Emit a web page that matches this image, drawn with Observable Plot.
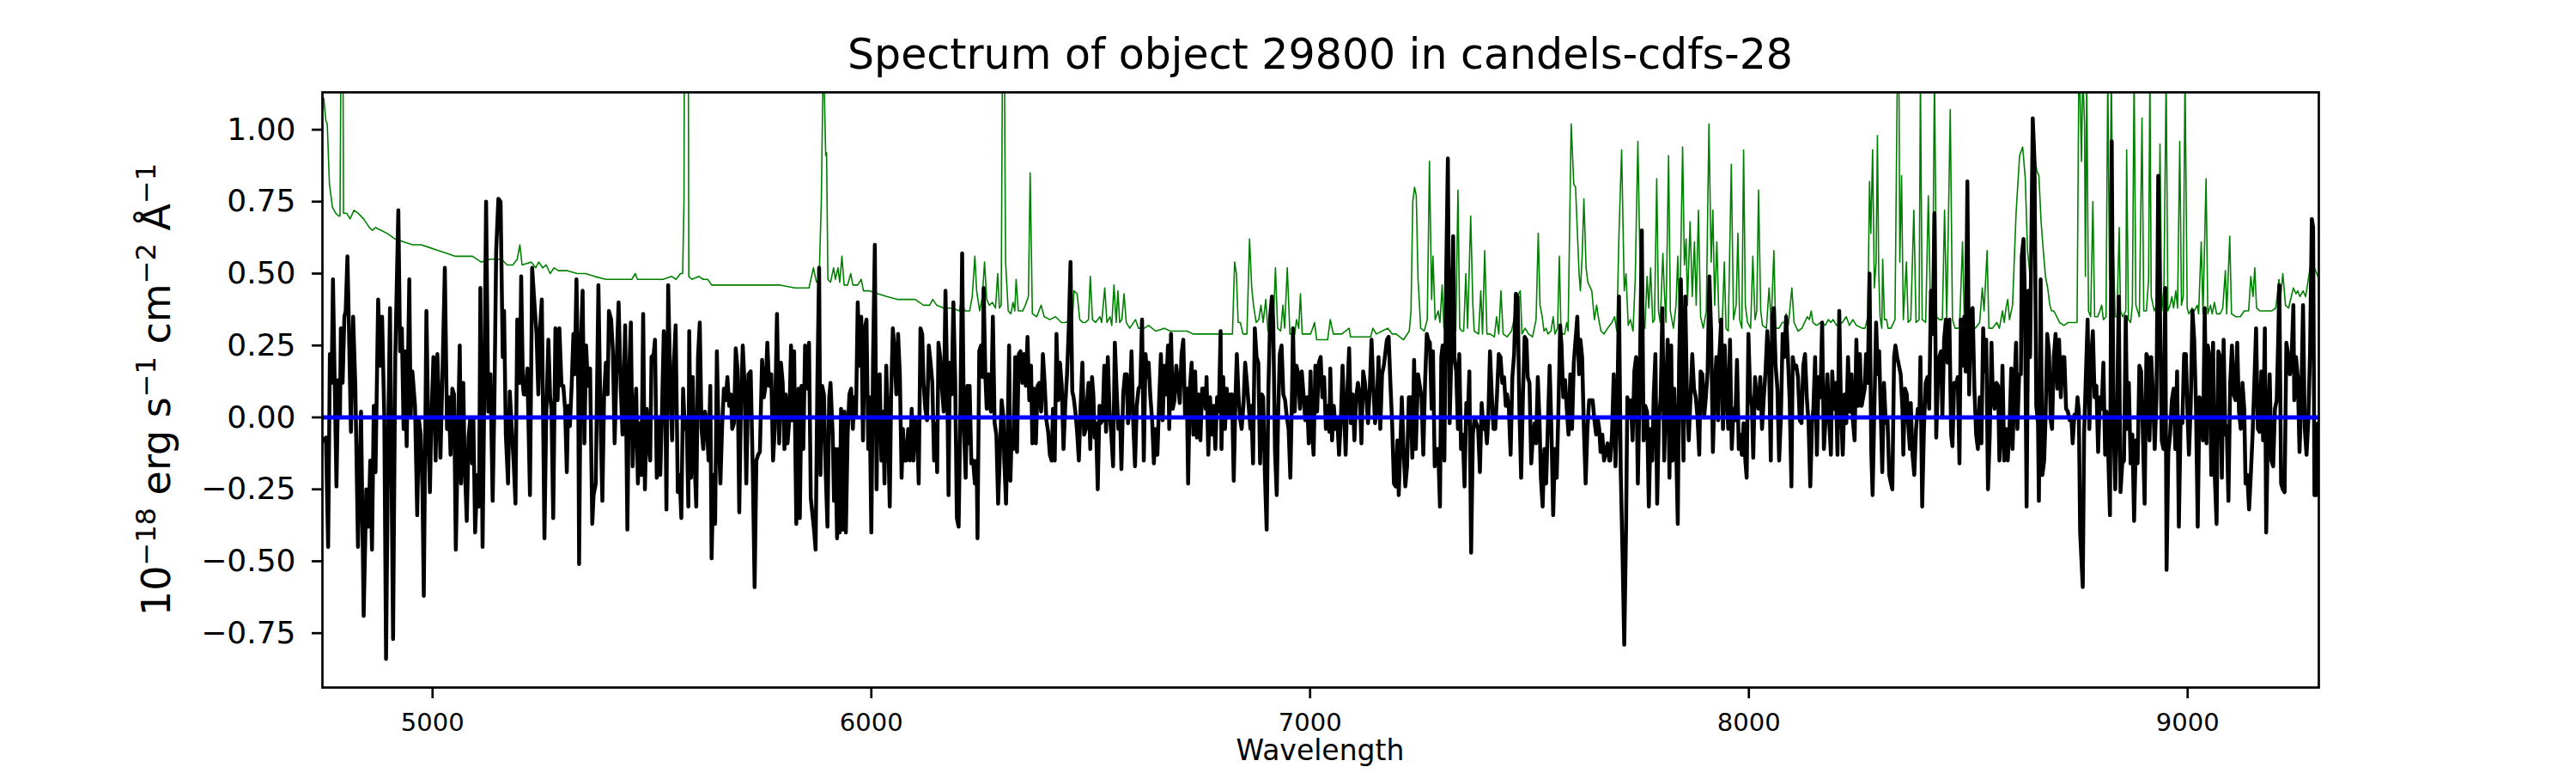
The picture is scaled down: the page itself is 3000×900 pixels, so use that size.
<!DOCTYPE html>
<html>
<head>
<meta charset="utf-8">
<script src="https://cdn.jsdelivr.net/npm/d3@7"></script>
<script src="https://cdn.jsdelivr.net/npm/@observablehq/plot@0.6"></script>
<style>
html, body { margin: 0; padding: 0; background: #ffffff; }
#chart { width: 3000px; height: 900px; }
</style>
</head>
<body>
<div id="chart"></div>
<script>
// ---------- text ----------
const titleText = "Spectrum of object 29800 in candels-cdfs-28";
const xLabelText = "Wavelength";
// y label pieces: [text, isSuperscript]
const yLabelParts = [["10", false], ["\u221218", true], [" erg s", false], ["\u22121", true], [" cm", false], ["\u22122", true], [" \u00C5", false], ["\u22121", true]];

// ---------- ticks / domains ----------
const xTicks = [5000, 6000, 7000, 8000, 9000];
const yTicks = [-0.75, -0.5, -0.25, 0, 0.25, 0.5, 0.75, 1.0];
const xDomain = [4749, 9299];
const yDomain = [-0.939, 1.13];
const zeroLevel = [0];

// ---------- object spectrum: [wavelength, flux] ----------
const spectrum = [
[4752,-0.08],[4757,-0.07],[4762,-0.45],[4766,0.22],[4770,0.12],[4773,0.48],[4777,0.12],[4781,-0.24],[4785,0.13],[4789,0.00],
[4791,0.31],[4795,0.12],[4799,0.35],[4802,0.37],[4806,0.56],[4809,0.34],[4814,-0.05],[4819,0.35],[4824,0.11],[4830,-0.45],
[4837,0.02],[4843,-0.69],[4849,-0.25],[4854,-0.38],[4858,-0.15],[4862,-0.46],[4866,0.04],[4870,-0.19],[4876,0.41],[4881,0.18],
[4885,0.35],[4890,0.00],[4894,-0.84],[4899,-0.04],[4903,0.38],[4910,-0.77],[4915,0.21],[4922,0.72],[4926,0.23],[4930,0.31],
[4934,-0.04],[4937,0.23],[4941,-0.10],[4947,0.48],[4950,0.00],[4954,0.16],[4960,0.04],[4965,-0.34],[4969,-0.01],[4973,-0.06],
[4977,-0.25],[4980,-0.62],[4986,0.37],[4990,-0.02],[4994,-0.26],[4997,-0.02],[5002,0.21],[5007,-0.15],[5011,0.22],[5014,0.07],
[5018,-0.14],[5023,0.18],[5028,0.52],[5033,-0.04],[5037,0.07],[5041,-0.13],[5045,0.10],[5049,0.08],[5053,-0.46],[5058,-0.05],
[5062,0.25],[5065,-0.23],[5070,0.12],[5073,-0.15],[5078,-0.36],[5082,-0.07],[5086,0.00],[5090,-0.16],[5093,0.00],[5097,-0.40],
[5102,-0.20],[5106,-0.31],[5109,0.45],[5114,-0.45],[5118,0.10],[5122,0.75],[5127,0.02],[5132,0.15],[5137,-0.29],[5141,0.06],
[5145,0.58],[5150,0.76],[5155,0.75],[5160,0.21],[5163,0.37],[5167,-0.06],[5172,-0.23],[5176,0.09],[5182,-0.08],[5185,-0.16],
[5189,-0.30],[5193,0.34],[5199,0.12],[5202,0.49],[5206,0.11],
[5208,0.08],[5212,0.08],[5216,0.17],[5222,-0.27],[5227,0.52],[5232,0.40],[5237,0.29],[5241,0.08],[5245,0.31],[5249,0.41],
[5255,-0.42],[5259,0.00],[5264,0.27],[5268,0.07],[5271,0.03],[5275,-0.35],[5280,0.31],[5285,0.06],[5289,0.31],[5294,0.11],
[5298,0.11],[5302,0.03],[5306,-0.19],[5309,0.04],[5313,-0.03],[5317,0.11],[5321,0.29],[5324,0.15],[5328,0.48],[5332,0.10],
[5334,-0.51],[5338,0.25],[5342,0.44],[5346,-0.09],[5350,0.25],[5354,0.11],[5359,0.17],[5364,-0.37],[5367,-0.27],[5372,-0.23],
[5378,0.46],[5383,-0.02],[5387,-0.29],[5391,0.08],[5395,0.19],[5399,0.08],[5402,0.37],[5407,0.34],[5411,0.23],[5415,-0.09],
[5420,0.21],[5424,0.40],[5429,0.10],[5433,-0.06],[5439,0.32],[5444,-0.39],[5448,0.15],[5452,0.33],[5456,-0.17],[5460,0.00],
[5464,0.10],[5468,-0.23],[5472,-0.02],[5476,-0.20],[5480,0.36],[5484,-0.25],[5488,0.03],[5492,-0.08],[5496,-0.15],[5499,0.21],
[5504,0.22],[5507,0.27],[5511,-0.21],[5515,0.00],[5519,-0.20],[5523,0.03],[5527,0.30],[5530,0.13],[5533,-0.32],[5537,0.46],
[5542,0.10],[5546,-0.08],[5550,0.19],[5554,0.32],[5559,-0.26],[5563,-0.20],[5567,-0.35],[5571,0.10],[5575,-0.04],[5579,-0.01],
[5583,-0.31],[5585,0.30],[5589,-0.21],[5593,0.14],[5597,-0.15],[5601,-0.31],[5605,0.21],[5609,0.33],[5613,-0.04],[5617,-0.11],
[5621,0.02],[5625,-0.02],[5629,-0.15],[5633,0.11],[5636,-0.49],[5640,-0.20],[5644,-0.37],[5648,0.23],[5652,-0.06],[5656,-0.23],
[5660,-0.03],[5664,0.10],[5668,0.06],[5672,0.14],[5676,0.04],[5680,0.08],[5683,-0.04],[5687,-0.02],[5691,0.24],[5695,0.17],
[5699,-0.33],[5703,0.06],[5707,0.25],[5711,0.12],[5715,-0.23],
[5720,0.15],[5725,0.16],[5730,-0.20],[5734,-0.59],[5738,-0.15],[5742,-0.13],[5746,-0.12],[5751,0.20],[5755,0.07],[5759,0.11],
[5763,0.26],[5767,0.11],[5772,0.15],[5776,-0.15],[5780,-0.04],[5785,0.36],[5790,-0.09],[5794,0.19],[5798,0.12],[5802,-0.11],
[5805,0.08],[5809,-0.09],[5813,-0.01],[5817,0.25],[5820,-0.01],[5824,0.23],[5829,-0.37],[5834,0.10],[5837,-0.35],[5841,0.11],
[5845,-0.11],[5849,0.25],[5854,0.10],[5858,0.26],[5862,-0.28],[5866,-0.34],[5870,-0.40],[5873,-0.46],[5877,0.12],[5881,0.52],
[5884,-0.20],[5888,0.11],[5892,0.08],[5896,-0.19],[5900,-0.38],[5904,0.07],[5907,0.12],[5912,-0.06],[5915,-0.29],[5918,-0.11],
[5922,-0.42],[5925,-0.11],[5928,-0.40],[5931,0.03],[5935,-0.39],[5939,0.02],[5942,-0.40],[5946,-0.06],[5950,0.08],[5954,0.10],
[5958,-0.04],[5961,0.07],[5965,0.00],[5969,0.40],[5973,0.18],[5977,0.35],[5981,-0.08],[5985,0.31],[5989,0.34],[5993,-0.11],
[5996,0.07],[6000,-0.40],[6004,0.21],[6008,0.60],[6012,-0.25],[6015,0.14],[6019,0.15],[6023,-0.15],[6027,0.02],[6030,-0.23],
[6034,0.18],[6038,-0.04],[6042,-0.31],[6045,0.07],[6049,0.31],[6053,0.23],[6057,0.08],[6061,0.29],[6065,0.15],[6069,-0.21],
[6072,-0.04],[6076,-0.15],[6080,-0.15],[6084,-0.04],[6088,-0.15],[6092,0.03],[6096,-0.15],[6100,-0.01],[6104,-0.02],[6108,-0.23],
[6112,0.31],[6116,0.29],[6119,0.12],[6123,0.03],[6127,-0.01],[6131,0.25],[6135,0.19],[6139,0.12],[6143,-0.15],[6147,-0.02],
[6150,-0.19],[6153,0.26],[6157,0.21],[6161,0.10],[6165,0.02],[6169,0.44],[6173,0.11],[6176,-0.27],[6179,0.19],[6183,0.08],
[6187,0.40],[6191,0.14],[6195,-0.35],[6199,-0.38],[6203,0.03],[6207,0.57],[6211,-0.04],[6215,-0.21],[6219,0.11],
[6221,-0.09],[6224,0.11],[6228,-0.16],[6232,-0.15],[6236,-0.23],[6240,-0.15],[6242,-0.42],[6246,0.23],[6250,0.25],[6254,0.14],
[6256,0.45],[6260,0.14],[6263,0.03],[6267,0.15],[6271,0.03],[6273,0.02],[6277,0.35],[6281,-0.02],[6285,-0.06],[6289,-0.30],
[6293,-0.13],[6297,0.06],[6301,0.00],[6303,-0.15],[6307,-0.30],[6311,-0.02],[6314,0.25],[6317,-0.22],[6320,-0.05],[6324,-0.11],
[6328,0.21],[6332,-0.12],[6336,0.22],[6340,0.23],[6344,0.12],[6348,0.22],[6352,0.11],[6356,0.28],[6360,0.06],[6364,0.18],
[6367,-0.09],[6371,0.10],[6375,-0.09],[6379,0.11],[6383,0.12],[6387,0.02],[6391,0.22],[6395,0.12],[6399,-0.01],[6403,-0.05],
[6407,-0.13],[6411,-0.15],[6414,0.03],[6418,-0.15],[6422,0.29],[6426,0.06],[6430,0.19],[6434,0.11],[6438,-0.11],[6442,0.04],
[6446,0.15],[6450,0.31],[6454,0.54],[6458,0.09],[6461,0.07],[6465,0.02],[6469,-0.05],[6473,-0.15],[6477,0.04],[6481,0.19],
[6485,-0.06],[6489,-0.04],[6491,0.04],[6495,0.12],[6499,-0.11],[6503,0.14],[6506,0.08],[6509,-0.07],[6512,-0.02],[6516,-0.25],
[6520,0.04],[6523,-0.02],[6527,-0.01],[6531,0.18],[6535,-0.05],[6539,0.21],[6543,0.02],[6547,-0.06],[6551,-0.17],[6555,0.26],
[6559,0.10],[6563,-0.04],[6567,0.00],[6570,-0.18],[6574,0.08],[6578,0.15],[6582,0.15],[6585,-0.02],[6589,0.04],[6593,0.23],
[6597,-0.02],[6601,-0.17],[6605,0.04],[6609,0.10],[6613,0.11],[6617,0.34],[6621,-0.15],[6625,0.22],[6629,0.14],[6632,0.19],
[6636,0.07],[6640,-0.01],[6644,-0.16],[6648,-0.04],[6652,-0.13],[6656,0.06],[6660,0.22],[6664,-0.01],[6668,0.18],[6672,0.08],
[6676,0.25],[6679,-0.04],[6683,0.29],[6687,0.03],[6691,0.06],[6695,0.18],[6699,0.12],[6703,0.05],[6707,0.22],[6711,0.27],
[6715,0.01],[6719,0.10],[6722,-0.23],[6726,0.10],[6730,0.19],[6734,-0.06],
[6738,0.16],[6742,-0.07],[6746,0.08],[6750,-0.08],[6754,0.10],[6758,0.10],[6762,0.03],[6764,0.14],[6768,-0.13],[6772,0.07],
[6776,-0.06],[6780,0.04],[6784,-0.11],[6788,0.07],[6792,0.02],[6796,0.30],[6798,-0.11],[6802,0.14],[6806,-0.04],[6810,0.10],
[6814,0.00],[6818,0.08],[6822,0.08],[6826,-0.22],[6830,0.07],[6833,0.22],[6837,0.07],[6841,-0.01],[6844,-0.04],[6848,0.04],
[6852,0.19],[6856,0.12],[6860,0.04],[6864,-0.04],[6866,0.04],[6870,-0.16],[6874,0.31],[6878,0.21],[6882,0.19],[6886,-0.16],
[6890,0.08],[6893,0.07],[6897,-0.20],[6901,-0.39],[6905,0.10],[6909,0.35],[6913,0.42],[6916,0.33],[6920,-0.12],[6924,-0.27],
[6927,0.00],[6931,0.22],[6935,0.25],[6939,0.08],[6943,0.06],[6947,0.00],[6951,-0.04],[6955,-0.21],[6959,0.10],[6961,0.31],
[6965,0.02],[6969,0.18],[6973,0.15],[6977,0.03],[6981,0.16],[6985,0.08],[6989,-0.01],[6993,0.07],[6997,-0.09],[7001,0.16],
[7004,-0.04],[7008,-0.13],[7012,0.18],[7016,0.02],[7020,0.19],[7024,0.21],[7028,0.07],[7032,0.14],[7036,-0.04],[7040,0.04],
[7044,-0.05],[7046,0.17],[7050,-0.08],[7054,0.04],[7058,-0.04],[7062,-0.01],[7066,-0.13],[7070,-0.01],[7074,0.18],[7078,0.00],
[7081,-0.13],[7085,0.09],[7089,0.24],[7093,-0.02],[7097,0.08],[7101,-0.08],[7105,0.07],[7109,0.12],[7113,0.08],[7117,-0.09],
[7121,0.16],[7125,0.12],[7128,0.07],[7132,-0.02],[7136,0.10],[7140,0.27],[7144,0.11],[7148,-0.02],[7152,0.04],[7156,0.21],
[7160,-0.04],[7164,0.15],[7168,0.18],[7172,0.23],[7175,0.27],[7179,0.28],[7183,0.12],[7187,-0.02],[7191,-0.23],[7195,-0.24],
[7199,-0.08],[7202,-0.27],[7206,-0.09],[7209,0.07],[7213,-0.11],[7217,-0.24],[7221,-0.17],[7225,0.07],[7229,0.07],[7233,-0.14],
[7237,0.20],[7241,-0.11],
[7246,0.15],[7250,0.11],[7254,0.07],[7258,-0.13],[7262,0.12],[7266,0.29],[7269,0.27],[7273,0.26],[7277,0.03],[7280,0.23],
[7284,-0.17],[7288,-0.11],[7292,-0.11],[7296,-0.31],[7299,0.21],[7302,0.25],[7306,-0.15],[7310,0.48],[7314,0.90],[7318,-0.02],
[7322,0.22],[7326,0.63],[7329,0.21],[7333,0.16],[7337,-0.04],[7340,0.22],[7344,-0.11],[7348,-0.06],[7352,-0.24],[7356,0.05],
[7359,-0.02],[7363,0.16],[7367,-0.47],[7371,-0.06],[7375,0.00],[7379,-0.02],[7383,-0.04],[7387,-0.19],[7391,0.05],[7395,-0.04],
[7399,-0.01],[7403,-0.09],[7406,-0.01],[7410,0.23],[7414,0.08],[7418,-0.04],[7422,-0.04],[7426,0.08],[7430,0.22],[7434,0.21],
[7438,0.12],[7442,0.14],[7446,0.04],[7449,0.08],[7453,0.03],[7457,-0.13],[7461,0.14],[7465,0.22],[7469,0.43],[7473,0.42],
[7477,0.03],[7481,-0.21],[7485,0.07],[7489,0.28],[7493,0.27],[7496,0.14],[7500,0.12],[7504,-0.16],[7508,-0.06],[7512,-0.02],
[7515,-0.09],[7519,0.14],[7523,-0.02],[7526,-0.21],[7530,-0.31],[7534,-0.11],[7538,-0.23],[7542,-0.02],[7546,0.18],[7550,-0.04],
[7554,-0.34],[7558,-0.11],[7562,-0.21],[7566,0.03],[7570,0.32],[7573,0.25],[7577,0.07],[7581,0.13],[7585,0.03],[7589,-0.06],
[7593,0.15],[7597,-0.04],[7601,0.19],[7605,0.27],[7609,0.35],[7613,0.15],[7616,0.27],[7620,0.21],[7624,-0.04],[7628,-0.23],
[7632,-0.04],[7636,0.06],[7640,0.06],[7644,0.06],[7648,-0.01],[7652,-0.06],[7656,-0.01],[7659,-0.04],[7662,-0.12],[7666,-0.06],
[7670,-0.15],[7674,-0.12],[7678,-0.09],[7682,-0.15],[7684,-0.15],[7688,-0.06],[7692,0.15],[7696,-0.17],[7700,0.02],[7704,0.42],
[7708,-0.19],[7712,-0.47],[7716,-0.79],[7720,-0.40],[7723,0.07],[7727,0.00],[7731,0.06],[7735,-0.08],[7739,0.16],[7743,0.21],
[7747,-0.23],
[7751,0.10],[7756,0.65],[7760,-0.08],[7764,0.04],[7768,0.02],[7772,-0.31],[7776,-0.04],[7780,-0.15],[7783,0.07],[7787,0.22],
[7791,-0.30],[7795,-0.01],[7799,0.07],[7803,0.38],[7807,-0.15],[7811,0.07],[7815,0.27],[7819,-0.21],[7823,0.25],[7826,-0.15],
[7830,0.10],[7834,-0.08],[7838,-0.37],[7841,0.19],[7845,0.48],[7849,-0.01],[7851,-0.15],[7855,0.42],[7859,0.07],[7863,-0.08],
[7867,0.07],[7871,0.22],[7875,0.10],[7879,0.07],[7883,0.00],[7887,-0.13],[7890,0.16],[7894,0.15],[7898,0.00],[7902,0.07],
[7906,0.16],[7910,0.49],[7914,0.30],[7918,-0.12],[7922,0.10],[7926,0.21],[7930,-0.01],[7933,0.22],[7937,0.34],[7941,-0.04],
[7945,0.25],[7949,0.07],[7953,-0.04],[7957,0.27],[7961,-0.11],[7965,0.03],[7969,-0.01],[7973,0.20],[7977,-0.11],[7980,-0.06],
[7984,-0.13],[7988,-0.02],[7992,-0.15],[7995,-0.21],[7999,0.29],[8003,0.08],[8007,0.04],[8010,-0.14],[8014,0.14],[8018,0.06],
[8022,0.03],[8026,0.14],[8030,-0.04],[8034,0.07],[8038,0.16],[8042,0.30],[8046,0.19],[8050,-0.15],[8053,0.35],[8057,0.38],
[8061,0.18],[8065,0.10],[8069,-0.15],[8073,0.00],[8077,0.29],[8081,0.21],[8085,0.35],[8089,0.21],[8093,0.06],[8097,-0.24],
[8100,0.21],[8104,0.17],[8108,0.18],[8112,0.14],[8116,-0.01],[8120,-0.02],[8124,0.18],[8128,0.22],[8132,0.07],[8136,-0.02],
[8140,-0.24],[8144,-0.02],[8147,0.03],[8151,0.21],[8155,-0.13],[8159,0.14],[8163,0.07],[8167,0.33],[8171,-0.11],[8175,0.00],
[8179,0.15],[8183,-0.01],[8187,-0.13],[8190,0.16],[8194,0.03],[8198,0.12],[8202,-0.13],[8206,0.37],[8210,0.03],[8214,-0.13],
[8218,0.08],[8222,-0.02],[8226,0.21],[8230,0.02],[8234,0.15],[8237,-0.01],[8241,-0.08],[8245,0.27],[8249,0.04],[8253,0.22],
[8257,0.04],
[8264,0.10],[8267,0.22],[8271,0.12],[8275,0.50],[8279,-0.12],[8282,-0.27],[8286,0.03],[8290,0.33],[8294,0.15],[8297,0.23],
[8301,-0.01],[8304,-0.19],[8308,0.12],[8312,-0.02],[8316,-0.01],[8320,-0.20],[8324,-0.23],[8327,-0.25],[8331,0.21],[8334,0.25],
[8338,0.21],[8342,0.18],[8346,0.15],[8350,0.03],[8352,-0.13],[8356,0.10],[8360,0.08],[8363,-0.02],[8367,-0.11],[8369,0.05],
[8373,-0.13],[8377,-0.20],[8381,-0.04],[8385,0.03],[8389,0.03],[8391,0.21],[8395,-0.31],[8399,-0.04],[8403,0.12],[8407,0.14],
[8411,0.03],[8415,0.44],[8419,0.29],[8423,0.71],[8427,-0.07],[8431,0.14],[8434,0.21],[8438,0.23],[8441,0.00],[8445,0.27],
[8449,0.34],[8453,0.19],[8457,0.34],[8461,-0.06],[8464,-0.10],[8468,0.12],[8472,0.11],[8476,0.14],[8480,-0.16],[8483,0.34],
[8487,0.18],[8491,0.35],[8494,0.16],[8498,0.82],[8502,0.08],[8506,0.37],[8510,0.38],[8514,0.10],[8518,-0.06],[8522,-0.11],
[8526,0.07],[8530,-0.09],[8534,0.31],[8538,0.16],[8541,0.27],[8545,-0.25],[8549,-0.06],[8553,0.26],[8556,0.07],[8560,0.03],
[8564,0.12],[8568,0.11],[8571,-0.15],[8575,-0.04],[8578,0.18],[8582,-0.15],[8586,-0.04],[8590,-0.15],[8594,-0.04],[8598,0.17],
[8601,-0.11],[8605,0.10],[8609,0.26],[8612,-0.04],[8616,0.15],[8620,0.15],[8622,0.56],[8626,0.62],[8629,0.42],[8633,-0.31],
[8637,0.44],[8641,0.21],[8643,0.50],[8647,1.04],[8651,0.89],[8655,0.04],[8659,-0.02],[8661,-0.29],[8665,0.48],[8669,-0.20],
[8673,-0.15],[8676,-0.01],[8680,0.29],[8684,0.23],[8688,-0.01],[8691,-0.04],[8695,0.21],[8699,0.29],[8703,0.10],[8707,0.27],
[8711,0.07],[8715,0.21],[8719,0.21],[8723,0.03],[8727,0.02],[8731,-0.01],[8735,0.00],[8738,-0.09],[8742,0.01],[8746,0.00],
[8749,0.07],[8752,0.02],[8755,-0.40],[8761,-0.59],[8764,-0.06],
[8772,0.34],[8776,-0.04],[8780,0.21],[8784,0.30],[8788,0.07],[8792,0.11],[8796,-0.12],[8800,0.07],[8804,0.03],[8808,0.19],
[8812,-0.13],[8815,0.02],[8819,-0.13],[8823,-0.34],[8827,0.96],[8831,-0.01],[8835,-0.25],[8839,0.00],[8843,0.42],[8847,-0.26],
[8851,-0.16],[8855,-0.15],[8859,0.35],[8862,-0.04],[8866,0.12],[8870,-0.16],[8874,-0.06],[8878,-0.36],[8882,-0.08],[8886,-0.16],
[8890,0.18],[8894,0.16],[8898,-0.06],[8902,-0.30],[8906,0.22],[8909,0.21],[8913,-0.08],[8917,0.21],[8921,0.08],[8925,-0.11],
[8929,0.07],[8933,0.84],[8937,0.37],[8941,-0.08],[8945,-0.11],[8949,0.45],[8952,-0.53],[8956,-0.12],[8960,-0.06],[8964,0.06],
[8968,0.10],[8972,-0.11],[8976,0.16],[8980,-0.38],[8984,-0.01],[8988,-0.02],[8992,0.22],[8996,0.22],[9000,0.00],[9003,-0.13],
[9007,0.04],[9011,0.37],[9015,0.27],[9019,0.04],[9023,-0.38],[9027,0.07],[9031,0.04],[9035,-0.08],[9039,0.38],[9043,-0.09],
[9046,0.25],[9050,0.21],[9054,-0.20],[9058,0.26],[9062,-0.21],[9066,-0.37],[9070,0.23],[9074,0.21],[9078,-0.21],[9082,0.27],
[9086,-0.06],[9089,-0.03],[9093,-0.29],[9097,0.12],[9101,0.25],[9105,0.08],[9109,0.06],[9113,0.26],[9117,0.02],[9121,-0.04],
[9125,0.12],[9129,0.03],[9132,-0.23],[9136,-0.20],[9140,-0.32],[9144,-0.20],[9148,-0.06],[9152,0.12],[9156,0.31],[9160,-0.04],
[9164,-0.05],[9168,0.16],[9172,-0.08],[9176,0.31],[9179,-0.40],[9183,-0.04],[9187,0.15],[9191,-0.15],[9195,-0.17],[9199,0.03],
[9203,0.06],[9207,0.31],[9209,0.46],[9213,-0.23],[9217,-0.25],[9221,-0.26],[9225,0.26],[9229,0.22],[9233,0.15],[9237,0.21],
[9241,0.39],[9243,0.06],[9247,0.21],[9251,0.14],[9255,-0.12],[9259,0.07],[9263,0.39],[9267,-0.04],[9271,-0.13],[9275,-0.01],
[9279,0.23],[9283,0.69],[9286,0.66],[9289,-0.27],[9293,-0.27],[9297,-0.02]
];

// ---------- noise / sky spectrum: [wavelength, value] ----------
const noise = [
[4752,1.11],[4757,1.03],[4760,1.02],[4765,0.81],[4772,0.73],[4779,0.71],[4786,0.70],[4789,0.70],[4791,1.20],[4793,1.60],
[4796,1.20],[4797,0.71],[4804,0.71],[4812,0.69],[4821,0.72],[4830,0.71],[4843,0.69],[4856,0.66],[4863,0.65],[4870,0.66],
[4883,0.65],[4896,0.64],[4915,0.62],[4935,0.61],[4954,0.60],[4974,0.60],[4994,0.59],[5013,0.58],[5033,0.57],[5052,0.56],
[5072,0.56],[5091,0.56],[5111,0.54],[5131,0.55],[5147,0.55],[5157,0.55],[5170,0.53],[5183,0.53],[5193,0.55],[5199,0.60],
[5204,0.53],[5225,0.54],[5235,0.52],[5242,0.54],[5251,0.52],[5259,0.53],[5268,0.50],[5277,0.52],[5287,0.51],[5307,0.51],
[5330,0.50],[5349,0.50],[5369,0.49],[5395,0.48],[5428,0.48],[5454,0.48],[5462,0.50],[5467,0.48],[5493,0.48],[5525,0.48],
[5545,0.49],[5555,0.48],[5565,0.50],[5570,0.50],[5573,0.75],[5575,1.90],[5582,1.90],[5584,0.49],[5591,0.48],[5607,0.49],
[5617,0.48],[5627,0.48],[5636,0.46],[5656,0.46],[5682,0.46],[5715,0.46],[5734,0.46],[5770,0.46],[5793,0.46],[5826,0.45],
[5858,0.45],[5868,0.52],[5875,0.47],[5881,0.48],[5886,0.75],[5890,1.20],[5892,1.20],[5896,0.91],[5898,0.92],[5901,0.48],
[5907,0.47],[5914,0.52],[5918,0.48],[5924,0.52],[5928,0.47],[5933,0.56],[5938,0.46],[5946,0.46],[5953,0.50],[5958,0.46],
[5969,0.46],[5977,0.48],[5982,0.44],[5995,0.44],[6015,0.43],[6035,0.42],[6061,0.41],[6087,0.41],[6100,0.41],[6119,0.39],
[6133,0.39],[6140,0.41],[6149,0.39],[6165,0.38],[6185,0.38],[6201,0.37],[6204,0.40],[6214,0.37],
[6224,0.37],[6230,0.42],[6236,0.56],[6240,0.44],[6247,0.37],[6253,0.42],[6258,0.54],[6263,0.41],[6269,0.39],[6276,0.40],
[6283,0.38],[6288,0.50],[6292,0.38],[6296,0.39],[6299,1.30],[6301,1.40],[6303,1.30],[6306,0.54],[6312,0.37],[6318,0.36],
[6323,0.40],[6327,0.37],[6330,0.48],[6335,0.37],[6345,0.37],[6351,0.39],[6358,0.42],[6362,0.85],[6367,0.36],[6377,0.35],
[6387,0.39],[6394,0.35],[6407,0.34],[6420,0.35],[6433,0.33],[6442,0.33],[6458,0.34],[6462,0.44],[6469,0.43],[6475,0.34],
[6482,0.33],[6488,0.33],[6495,0.34],[6499,0.49],[6504,0.34],[6511,0.33],[6521,0.35],[6525,0.33],[6532,0.45],[6537,0.33],
[6544,0.35],[6548,0.32],[6553,0.46],[6558,0.33],[6562,0.44],[6566,0.33],[6571,0.34],[6576,0.43],[6581,0.33],[6589,0.31],
[6602,0.34],[6609,0.31],[6622,0.31],[6632,0.32],[6648,0.30],[6668,0.31],[6681,0.30],[6700,0.30],[6720,0.30],[6733,0.29],
[6753,0.29],[6785,0.29],[6823,0.29],[6828,0.54],[6832,0.50],[6836,0.33],[6841,0.33],[6847,0.29],[6856,0.29],[6862,0.62],
[6867,0.45],[6871,0.39],[6877,0.33],[6883,0.34],[6888,0.39],[6893,0.33],[6899,0.41],[6904,0.30],[6912,0.31],[6917,0.35],
[6921,0.52],[6926,0.31],[6933,0.30],[6938,0.39],[6942,0.31],[6948,0.52],[6954,0.29],[6965,0.29],[6969,0.34],[6974,0.31],
[6978,0.43],[6982,0.29],[7001,0.29],[7006,0.31],[7010,0.33],[7015,0.27],[7040,0.27],[7046,0.34],[7053,0.29],[7072,0.29],
[7089,0.31],[7092,0.28],[7118,0.28],[7138,0.28],[7143,0.31],[7151,0.29],[7164,0.30],[7177,0.31],[7187,0.29],[7196,0.29],
[7213,0.27],[7226,0.30],[7230,0.37],
[7234,0.75],[7238,0.80],[7242,0.77],[7246,0.48],[7248,0.43],[7252,0.31],[7260,0.30],[7267,0.34],[7272,0.89],[7277,0.41],
[7280,0.56],[7285,0.34],[7292,0.37],[7296,0.33],[7301,0.46],[7305,0.31],[7309,0.34],[7314,0.83],[7318,0.48],[7321,0.52],
[7326,0.33],[7332,0.30],[7337,0.79],[7341,0.31],[7346,0.30],[7350,0.30],[7355,0.50],[7359,0.31],[7366,0.70],[7371,0.39],
[7374,0.30],[7384,0.29],[7389,0.44],[7393,0.29],[7398,0.58],[7403,0.29],[7410,0.29],[7420,0.28],[7425,0.35],[7430,0.29],
[7435,0.44],[7440,0.29],[7449,0.28],[7459,0.30],[7466,0.35],[7472,0.42],[7479,0.44],[7483,0.29],[7490,0.31],[7498,0.29],
[7507,0.28],[7515,0.34],[7520,0.64],[7524,0.39],[7529,0.35],[7533,0.30],[7538,0.31],[7542,0.29],[7549,0.30],[7554,0.35],
[7558,0.29],[7564,0.31],[7568,0.56],[7572,0.29],[7580,0.29],[7585,0.33],[7588,0.30],[7595,1.02],[7601,0.81],[7605,0.80],
[7613,0.50],[7616,0.44],[7620,0.56],[7624,0.76],[7629,0.52],[7633,0.47],[7642,0.44],[7648,0.34],[7653,0.39],[7658,0.34],
[7663,0.30],[7670,0.29],[7678,0.31],[7688,0.33],[7694,0.35],[7699,0.30],[7704,0.64],[7710,0.93],[7716,0.44],[7720,0.50],
[7725,0.32],[7730,0.34],[7736,0.30],[7741,0.48],[7747,0.96],[7751,0.61],[7756,0.34],
[7763,0.31],[7768,0.49],[7772,0.38],[7776,0.52],[7781,0.33],[7785,0.34],[7790,0.83],[7794,0.37],[7798,0.33],[7804,0.57],
[7807,0.45],[7811,0.33],[7817,0.91],[7821,0.37],[7828,0.31],[7834,0.39],[7838,0.56],[7842,0.31],[7849,0.94],[7853,0.53],
[7857,0.62],[7860,0.39],[7866,0.68],[7871,0.42],[7876,0.61],[7880,0.39],[7885,0.72],[7890,0.35],[7896,0.31],[7903,0.37],
[7909,1.02],[7914,0.54],[7918,0.72],[7922,0.39],[7927,0.61],[7932,0.33],[7939,0.31],[7944,0.54],[7948,0.31],[7953,0.30],
[7960,0.88],[7965,0.34],[7971,0.39],[7975,0.64],[7979,0.34],[7984,0.31],[7988,0.93],[7992,0.39],[7997,0.33],[8004,0.31],
[8009,0.56],[8014,0.34],[8018,0.37],[8022,0.79],[8027,0.37],[8031,0.32],[8040,0.31],[8046,0.45],[8051,0.33],[8057,0.58],
[8061,0.31],[8069,0.31],[8076,0.33],[8081,0.33],[8085,0.36],[8090,0.32],[8098,0.45],[8103,0.33],[8112,0.30],[8121,0.31],
[8133,0.35],[8138,0.34],[8142,0.37],[8146,0.33],[8154,0.32],[8164,0.33],[8174,0.32],[8181,0.34],[8187,0.33],[8192,0.34],
[8200,0.32],[8213,0.33],[8222,0.35],[8229,0.32],[8237,0.34],[8245,0.32],[8258,0.31],
[8265,0.31],[8271,0.35],[8275,0.82],[8278,0.64],[8282,0.93],[8286,0.45],[8290,0.54],[8293,0.98],[8296,0.50],[8299,0.35],
[8303,0.31],[8305,0.55],[8309,0.34],[8314,0.34],[8317,0.31],[8324,0.31],[8333,0.34],[8339,1.30],[8342,1.20],[8344,0.54],
[8348,0.84],[8352,0.34],[8359,0.54],[8363,0.33],[8369,0.34],[8376,0.72],[8381,0.33],[8388,0.34],[8391,1.20],[8395,0.34],
[8403,0.33],[8409,0.77],[8414,0.37],[8419,0.45],[8423,1.20],[8428,0.35],[8434,0.34],[8441,0.34],[8446,0.72],[8451,0.34],
[8459,1.07],[8464,0.34],[8470,0.31],[8480,0.31],[8487,0.61],[8491,0.34],[8500,0.31],[8509,0.32],[8516,0.31],[8526,0.33],
[8532,0.45],[8536,0.37],[8543,0.58],[8547,0.31],[8555,0.31],[8565,0.33],[8571,0.31],[8578,0.37],[8582,0.33],[8586,0.38],
[8590,0.41],[8594,0.34],[8601,0.39],[8609,0.71],[8617,0.91],[8624,0.94],[8630,0.83],[8635,0.58],[8641,0.49],[8646,0.69],
[8651,0.91],[8656,0.86],[8661,0.84],[8666,0.68],[8671,0.58],[8676,0.49],[8681,0.45],[8686,0.39],[8690,0.37],[8695,0.37],
[8702,0.35],[8708,0.33],[8718,0.32],[8728,0.33],[8738,0.33],[8748,0.33],[8752,1.20],[8755,1.11],[8758,0.89],[8761,1.20],
[8765,1.02],[8767,0.49],[8770,1.20],[8774,0.37],[8779,0.35],[8784,0.75],[8788,0.35],[8795,0.35],[8800,0.37],[8804,0.39],
[8808,0.34],[8814,0.35],[8818,1.20],[8822,0.48],[8826,1.20],[8830,0.61],[8835,0.35],[8839,0.35],[8844,0.66],[8847,0.37],
[8852,0.35],[8859,0.37],[8861,0.93],[8865,0.34],[8870,0.33],[8874,0.39],[8878,1.20],[8882,0.39],[8890,0.35],[8896,1.04],
[8900,0.37],[8906,0.37],[8911,0.48],[8914,1.20],[8917,0.42],[8924,0.37],[8929,0.39],[8933,0.36],[8937,0.95],[8941,0.37],
[8946,0.45],[8951,1.20],[8955,0.37],[8960,0.39],[8964,0.42],[8968,0.38],[8973,0.44],[8977,0.38],[8982,0.96],[8986,0.39],
[8990,0.42],[8994,1.20],[8999,0.38],[9003,0.36],[9010,0.38],[9015,0.37],[9022,0.39],[9025,0.36],[9031,0.61],[9035,0.36],
[9042,0.83],[9046,0.36],[9052,0.39],[9056,0.36],[9061,0.40],[9066,0.36],[9074,0.36],[9080,0.38],[9086,0.51],[9089,0.36],
[9096,0.63],[9100,0.36],[9110,0.35],[9120,0.35],[9129,0.37],[9139,0.37],[9144,0.49],[9149,0.42],[9153,0.52],[9157,0.38],
[9165,0.37],[9178,0.37],[9191,0.37],[9201,0.38],[9208,0.48],[9212,0.42],[9217,0.50],[9223,0.39],[9230,0.38],[9241,0.45],
[9247,0.43],[9251,0.44],[9256,0.42],[9263,0.44],[9269,0.42],[9279,0.52],[9283,0.50],[9289,0.52],[9297,0.49]
];

// ---------- build ----------
const spectrumRows = spectrum.map(([w, f]) => ({w, f}));
const noiseRows = noise.map(([w, f]) => ({w, f}));

const W = 3000, H = 900;
const M = {left: 375, right: 300, top: 107, bottom: 100};
const FONT = "DejaVu Sans";

const svgNode = Plot.plot({
  width: W,
  height: H,
  marginLeft: M.left,
  marginRight: M.right,
  marginTop: M.top,
  marginBottom: M.bottom,
  style: {fontFamily: FONT, color: "black", background: "white", overflow: "visible"},
  x: {domain: xDomain},
  y: {domain: yDomain},
  marks: [
    Plot.line(noiseRows, {x: "w", y: "f", stroke: "#008000", strokeWidth: 1.6, clip: true}),
    Plot.line(spectrumRows, {x: "w", y: "f", stroke: "#000000", strokeWidth: 4.5, clip: true}),
    Plot.ruleY(zeroLevel, {stroke: "#0000ff", strokeWidth: 5}),
    Plot.frame({stroke: "black", strokeWidth: 2.7}),
    Plot.axisX({ticks: xTicks, tickFormat: d3.format("d"), tickSize: 13, tickPadding: 17, fontSize: 29, strokeWidth: 2.7, label: null}),
    Plot.axisY({ticks: yTicks, tickFormat: d3.format(".2f"), tickSize: 12, tickPadding: 19, fontSize: 36, strokeWidth: 2.7, label: null})
  ]
});

document.getElementById("chart").appendChild(svgNode);
const svg = d3.select(svgNode);
const cx = M.left + (W - M.left - M.right) / 2;

svg.append("text")
  .attr("x", cx).attr("y", 80)
  .attr("text-anchor", "middle")
  .attr("font-family", FONT).attr("font-size", 49).attr("fill", "black")
  .text(titleText);

svg.append("text")
  .attr("x", cx).attr("y", 885)
  .attr("text-anchor", "middle")
  .attr("font-family", FONT).attr("font-size", 33).attr("fill", "black")
  .text(xLabelText);

const yFont = 46, supFont = 32, supShift = 17;
const yl = svg.append("text")
  .attr("transform", `translate(198,${M.top + (H - M.top - M.bottom) / 2}) rotate(-90)`)
  .attr("text-anchor", "middle")
  .attr("font-family", FONT).attr("font-size", yFont).attr("fill", "black")
  .style("white-space", "pre");
let prevSup = false;
for (const [txt, sup] of yLabelParts) {
  const t = yl.append("tspan").text(txt);
  if (sup) { t.attr("font-size", supFont).attr("dy", -supShift); }
  else if (prevSup) { t.attr("dy", supShift); }
  prevSup = sup;
}
</script>
</body>
</html>
